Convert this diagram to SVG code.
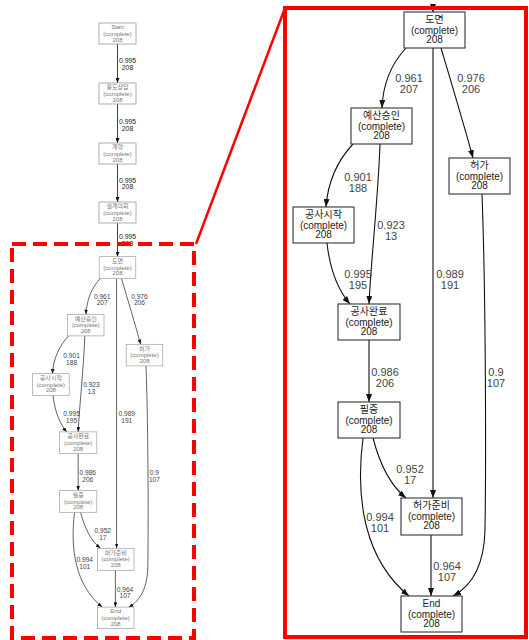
<svg xmlns="http://www.w3.org/2000/svg" xmlns:xlink="http://www.w3.org/1999/xlink" width="529" height="640" viewBox="0 0 529 640">
<style>
.box{fill:#fff;stroke-width:1.1}
.nt{stroke:none;font-family:"Liberation Sans","Noto Sans CJK KR",sans-serif;font-size:10px;text-anchor:middle}
.e{fill:none;stroke:#111;stroke-width:1.1}
.el{fill:#444;stroke:none;font-family:"Liberation Sans",Arial,sans-serif;font-size:11px;text-anchor:middle}
.sbox{fill:#fff;stroke:#999;stroke-width:0.8}
.snt{fill:#777;font-family:"Liberation Sans","Noto Sans CJK KR",sans-serif;font-size:6px;text-anchor:middle}
.se{fill:none;stroke:#111;stroke-width:0.8}
.sel{fill:#222;font-family:"Liberation Sans",Arial,sans-serif;font-size:6.8px;text-anchor:middle}
</style>
<defs>
<marker id="ah" markerUnits="userSpaceOnUse" markerWidth="8" markerHeight="6" refX="8" refY="3" orient="auto"><path d="M0,0 L8,3 L0,6 z" fill="#111"/></marker>
<marker id="ahs" markerUnits="userSpaceOnUse" markerWidth="5" markerHeight="4" refX="5" refY="2" orient="auto"><path d="M0,0 L5,2 L0,4 z" fill="#111"/></marker>
</defs>
<rect width="529" height="640" fill="#fff"/>

<!-- Left overview: top chain -->
<g id="left-top">
  <g id="connectors-left">
    <path class="se" d="M117.5,44 L117.5,83" marker-end="url(#ahs)"/>
    <path class="se" d="M117.5,104 L117.5,143" marker-end="url(#ahs)"/>
    <path class="se" d="M117.5,164 L117.5,202" marker-end="url(#ahs)"/>
    <path class="se" d="M117.5,223 L117.5,256.7" marker-end="url(#ahs)"/>
    <text class="sel" x="127.5" y="62.5">0.995</text><text class="sel" x="127.5" y="70">208</text>
    <text class="sel" x="127.5" y="124">0.995</text><text class="sel" x="127.5" y="131">208</text>
    <text class="sel" x="127.5" y="182.5">0.995</text><text class="sel" x="127.5" y="189">208</text>
    <text class="sel" x="127.5" y="239">0.995</text><text class="sel" x="127.5" y="246">208</text>
  </g>
  <g id="n-start"><rect class="sbox" x="99" y="23" width="37" height="21"/><text class="snt" x="117.5" y="29.3">Start</text><text class="snt" x="117.5" y="35.9">(complete)</text><text class="snt" x="117.5" y="41.6">208</text></g>
  <g id="n-consult"><rect class="sbox" x="99" y="83" width="37" height="21"/><text class="snt" x="117.5" y="89.3">용도상담</text><text class="snt" x="117.5" y="95.9">(complete)</text><text class="snt" x="117.5" y="101.6">208</text></g>
  <g id="n-contract"><rect class="sbox" x="99" y="143" width="37" height="21"/><text class="snt" x="117.5" y="149.3">계약</text><text class="snt" x="117.5" y="155.9">(complete)</text><text class="snt" x="117.5" y="161.6">208</text></g>
  <g id="n-design"><rect class="sbox" x="99" y="202" width="37" height="21"/><text class="snt" x="117.5" y="208.3">설계의뢰</text><text class="snt" x="117.5" y="214.9">(complete)</text><text class="snt" x="117.5" y="220.6">208</text></g>
</g>

<!-- Left overview: lower graph (scaled copy) -->
<use xlink:href="#graph" href="#graph" transform="translate(-143.2,249.5) scale(0.6)" stroke="#999" fill="#777"/>

<!-- Right zoomed graph -->
<g stroke="#333" fill="#222">
<g id="graph">
  <g id="connectors">
    <path class="e" d="M406,48 C393,62 383,82 382,108" marker-end="url(#ah)"/>
    <path class="e" d="M441,48 C452,85 464,125 473,158" marker-end="url(#ah)"/>
    <path class="e" d="M433,48 L433,498" marker-end="url(#ah)"/>
    <path class="e" d="M353,144 C338,160 328,180 326,207" marker-end="url(#ah)"/>
    <path class="e" d="M380,144 C378,200 371,260 369,304" marker-end="url(#ah)"/>
    <path class="e" d="M327,243 C330,270 338,290 350,304" marker-end="url(#ah)"/>
    <path class="e" d="M369,340 L369,402" marker-end="url(#ah)"/>
    <path class="e" d="M482,194 C486,300 486,470 485,530 C484,570 468,588 453,596" marker-end="url(#ah)"/>
    <path class="e" d="M373,438 C380,465 390,485 406,498" marker-end="url(#ah)"/>
    <path class="e" d="M363,438 C355,500 365,560 409,596" marker-end="url(#ah)"/>
    <path class="e" d="M431,535 L431,596" marker-end="url(#ah)"/>
    <text class="el" x="409" y="82">0.961</text><text class="el" x="409" y="93">207</text>
    <text class="el" x="471" y="82">0.976</text><text class="el" x="471" y="93">206</text>
    <text class="el" x="358" y="181">0.901</text><text class="el" x="358" y="192">188</text>
    <text class="el" x="391" y="229">0.923</text><text class="el" x="391" y="240">13</text>
    <text class="el" x="358" y="278">0.995</text><text class="el" x="358" y="289">195</text>
    <text class="el" x="450" y="278">0.989</text><text class="el" x="450" y="289">191</text>
    <text class="el" x="385" y="376">0.986</text><text class="el" x="385" y="387">206</text>
    <text class="el" x="496" y="376">0.9</text><text class="el" x="496" y="387">107</text>
    <text class="el" x="410" y="473">0.952</text><text class="el" x="410" y="484">17</text>
    <text class="el" x="380" y="521">0.994</text><text class="el" x="380" y="532">101</text>
    <text class="el" x="447" y="570">0.964</text><text class="el" x="447" y="581">107</text>
  </g>
  <g id="n-domyeon"><rect class="box" x="404" y="12" width="61" height="36"/><text class="nt" x="434.5" y="22.5">도면</text><text class="nt" x="434.5" y="33.5">(complete)</text><text class="nt" x="434.5" y="43">208</text></g>
  <g id="n-budget"><rect class="box" x="351" y="108" width="61" height="36"/><text class="nt" x="381.5" y="118.5">예산승인</text><text class="nt" x="381.5" y="129.5">(complete)</text><text class="nt" x="381.5" y="139">208</text></g>
  <g id="n-permit"><rect class="box" x="449" y="158" width="61" height="36"/><text class="nt" x="479.5" y="168.5">허가</text><text class="nt" x="479.5" y="179.5">(complete)</text><text class="nt" x="479.5" y="189">208</text></g>
  <g id="n-start-work"><rect class="box" x="293" y="207" width="61" height="36"/><text class="nt" x="323.5" y="217.5">공사시작</text><text class="nt" x="323.5" y="228.5">(complete)</text><text class="nt" x="323.5" y="238">208</text></g>
  <g id="n-done-work"><rect class="box" x="338" y="304" width="62" height="36"/><text class="nt" x="369" y="314.5">공사완료</text><text class="nt" x="369" y="325.5">(complete)</text><text class="nt" x="369" y="335">208</text></g>
  <g id="n-cert"><rect class="box" x="338" y="402" width="62" height="36"/><text class="nt" x="369" y="412.5">필증</text><text class="nt" x="369" y="423.5">(complete)</text><text class="nt" x="369" y="433">208</text></g>
  <g id="n-permit-prep"><rect class="box" x="401" y="498" width="61" height="37"/><text class="nt" x="431.5" y="508.5">허가준비</text><text class="nt" x="431.5" y="519.5">(complete)</text><text class="nt" x="431.5" y="529">208</text></g>
  <g id="n-end"><rect class="box" x="401" y="596" width="61" height="36"/><text class="nt" x="431.5" y="606.5">End</text><text class="nt" x="431.5" y="617.5">(complete)</text><text class="nt" x="431.5" y="627">208</text></g>
</g>
</g>
<path class="e" d="M433,7 L433,12" marker-end="url(#ah)"/>

<!-- Zoom decorations -->
<rect x="12" y="244" width="182" height="394" fill="none" stroke="#f00" stroke-width="4" stroke-dasharray="14 7"/>
<line x1="196" y1="244" x2="285" y2="8" stroke="#f00" stroke-width="2.5"/>
<rect x="285" y="8" width="241" height="629" fill="none" stroke="#f00" stroke-width="4"/>
</svg>
